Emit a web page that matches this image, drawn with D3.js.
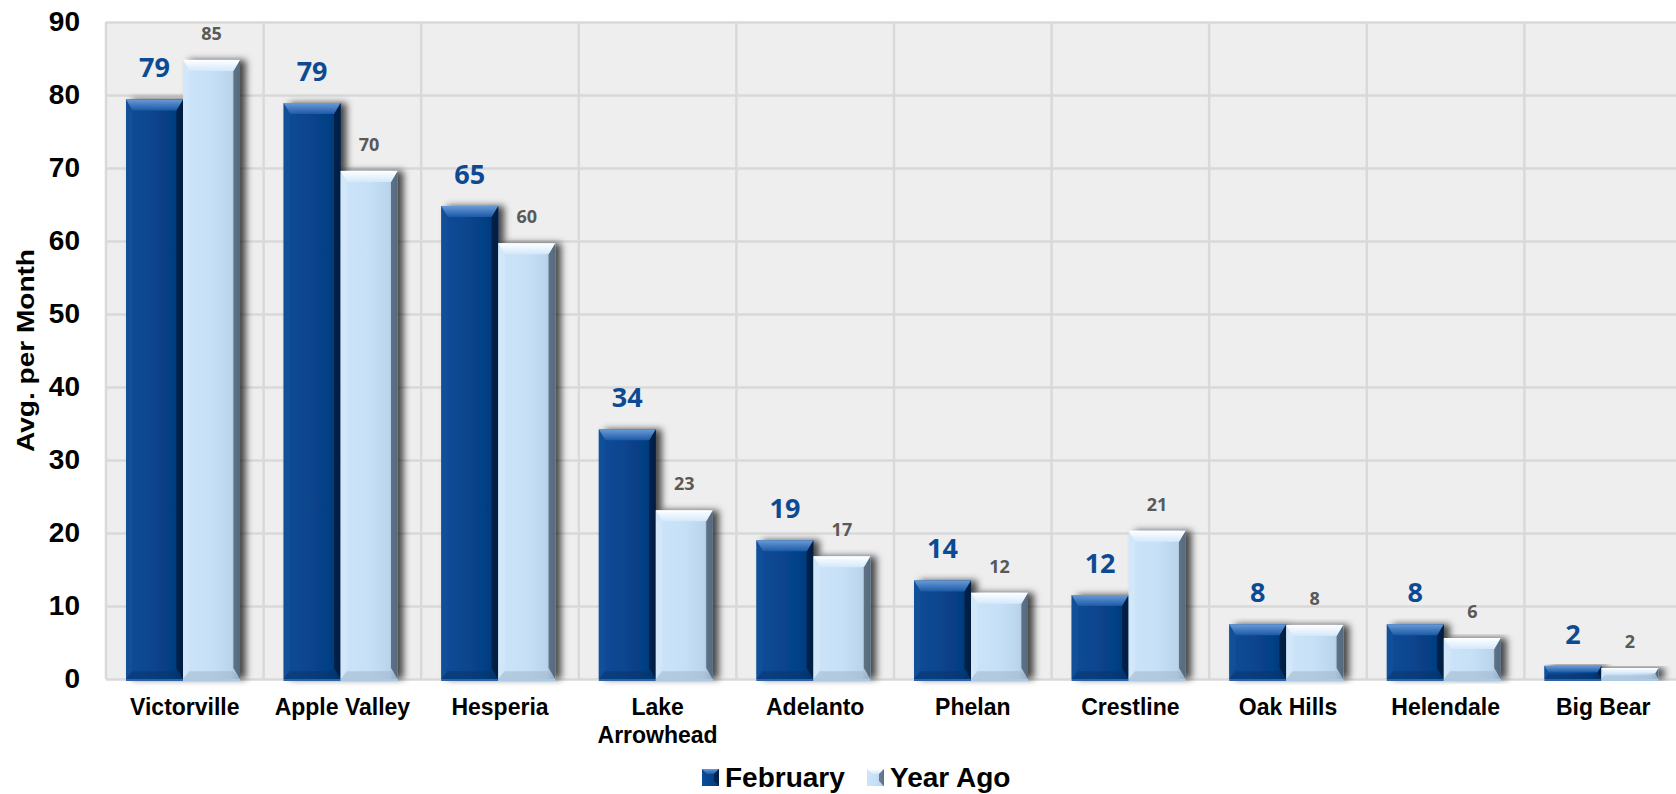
<!DOCTYPE html>
<html>
<head>
<meta charset="utf-8">
<script src="https://cdn.jsdelivr.net/npm/d3@7"></script>
<style>
  body { margin: 0; background: #fff; }
  svg { display: block; }
</style>
</head>
<body>
<script>
var width = 1676
var height = 794

// data
var categories = ["Victorville", "Apple Valley", "Hesperia", "Lake Arrowhead", "Adelanto",
                  "Phelan", "Crestline", "Oak Hills", "Helendale", "Big Bear"]
var seriesNames = ["February", "Year Ago"]
var february = [79.4, 78.9, 64.8, 34.2, 19.0, 13.5, 11.5, 7.5, 7.5, 1.8]
var yearAgo = [84.8, 69.6, 59.7, 23.1, 16.8, 11.8, 20.3, 7.4, 5.6, 1.5]
var februaryLabels = ["79", "79", "65", "34", "19", "14", "12", "8", "8", "2"]
var yearAgoLabels = ["85", "70", "60", "23", "17", "12", "21", "8", "6", "2"]
var yTicks = [0, 10, 20, 30, 40, 50, 60, 70, 80, 90]

var margin = { top: 22, bottom: 115, left: 106, right: -6 }
var plotW = width - margin.left - margin.right
var plotH = height - margin.top - margin.bottom

var svg = d3.select("body").append("svg")
  .attr("width", width)
  .attr("height", height)

// gradients and shadow
var defs = svg.append("defs")

function grad(id, x2, y2, stops) {
  var g = defs.append("linearGradient").attr("id", id)
    .attr("x1", 0).attr("y1", 0).attr("x2", x2).attr("y2", y2)
  stops.forEach(function(s) {
    g.append("stop").attr("offset", s[0]).attr("stop-color", s[1])
  })
}

var look = {
  "February": {
    body: [["0%", "#0b4c98"], ["50%", "#07448d"], ["85%", "#063d80"], ["100%", "#042d60"]],
    top: [["0%", "#6a9bd8"], ["100%", "#1c5aa6"]],
    left: "#145399", right: "#021a3a", bottom: "#06336c"
  },
  "Year Ago": {
    body: [["0%", "#cde4f8"], ["50%", "#c6e0f7"], ["85%", "#bad4ec"], ["100%", "#90a8bf"]],
    top: [["0%", "#ffffff"], ["100%", "#d3e8fb"]],
    left: "#d6e9fa", right: "#435668", bottom: "#9db2c6"
  }
}

seriesNames.forEach(function(s, i) {
  grad("body" + i, 1, 0, look[s].body)
  grad("top" + i, 0, 1, look[s].top)
})

var shadow = defs.append("filter").attr("id", "shadow")
  .attr("x", "-20%").attr("y", "-10%").attr("width", "160%").attr("height", "120%")
shadow.append("feDropShadow")
  .attr("dx", 6).attr("dy", 0).attr("stdDeviation", 3.5)
  .attr("flood-color", "#000").attr("flood-opacity", 0.7)

// scales
var x0 = d3.scaleBand().domain(categories).range([0, plotW]).padding(0)
var x1 = d3.scaleBand().domain(seriesNames).range([20, 134]).padding(0)
var y = d3.scaleLinear().domain([0, 90]).range([plotH, 0])

var g = svg.append("g")
  .attr("transform", "translate(" + margin.left + "," + margin.top + ")")

// plot background
g.append("rect")
  .attr("x", 0).attr("y", 0)
  .attr("width", plotW).attr("height", plotH)
  .attr("fill", "#eeeeee")

// horizontal grid
g.append("g")
  .call(d3.axisLeft(y).tickValues(yTicks).tickSize(-plotW).tickFormat(""))
  .call(function(a) {
    a.select(".domain").remove()
    a.selectAll("line").attr("stroke", "#d9d9d9").attr("stroke-width", 2.5)
  })

// vertical grid at category boundaries
g.append("g").selectAll("line")
  .data(categories)
  .enter()
  .append("line")
  .attr("x1", function(d) { return x0(d) })
  .attr("x2", function(d) { return x0(d) })
  .attr("y1", 0)
  .attr("y2", plotH)
  .attr("stroke", "#d9d9d9")
  .attr("stroke-width", 2.5)

// bars
var rows = categories.map(function(c, i) {
  return [
    { cat: c, series: "February", si: 0, value: february[i], label: februaryLabels[i] },
    { cat: c, series: "Year Ago", si: 1, value: yearAgo[i], label: yearAgoLabels[i] }
  ]
})

var catG = g.selectAll("g.cat")
  .data(rows)
  .enter()
  .append("g")
  .classed("cat", true)
  .attr("transform", function(d) { return "translate(" + x0(d[0].cat) + ",0)" })

var bar = catG.selectAll("g.bar")
  .data(function(d) { return d })
  .enter()
  .append("g")
  .classed("bar", true)

bar.each(function(d) {
  var el = d3.select(this)
  var bx = x1(d.series)
  var bw = x1.bandwidth()
  var by = y(d.value)
  var bh = plotH - by
  var b = Math.min(11, bh / 2)
  var st = look[d.series]

  el.append("rect")
    .attr("x", bx).attr("y", by)
    .attr("width", bw).attr("height", bh)
    .attr("fill", "url(#body" + d.si + ")")
    .attr("filter", "url(#shadow)")

  function poly(pts, fill, op) {
    el.append("polygon")
      .attr("points", pts.map(function(p) { return p.join(",") }).join(" "))
      .attr("fill", fill)
      .attr("opacity", op)
  }
  // left, right, bottom, top bevels
  poly([[bx, by], [bx + b * 0.6, by + b], [bx + b * 0.6, by + bh - b], [bx, by + bh]], st.left, 0.6)
  poly([[bx + bw, by], [bx + bw - b * 0.6, by + b], [bx + bw - b * 0.6, by + bh - b], [bx + bw, by + bh]], st.right, 0.75)
  poly([[bx, by + bh], [bx + b * 0.6, by + bh - b * 0.7], [bx + bw - b * 0.6, by + bh - b * 0.7], [bx + bw, by + bh]], st.bottom, 0.5)
  poly([[bx, by], [bx + bw, by], [bx + bw - b * 0.6, by + b], [bx + b * 0.6, by + b]], "url(#top" + d.si + ")", 1)

  // thin base line under the bar
  el.append("line")
    .attr("x1", bx).attr("x2", bx + bw)
    .attr("y1", plotH + 1).attr("y2", plotH + 1)
    .attr("stroke", d.si === 0 ? "#2c62a8" : "#a9cbe9")
    .attr("stroke-width", 2)
})

// value labels
bar.append("text")
  .attr("x", function(d) { return x1(d.series) + x1.bandwidth() / 2 })
  .attr("y", function(d) { return y(d.value) - (d.si === 0 ? 22 : 20) })
  .attr("text-anchor", "middle")
  .attr("font-family", "'Open Sans', 'Noto Sans', sans-serif")
  .attr("font-weight", "bold")
  .attr("font-size", function(d) { return d.si === 0 ? "27px" : "18px" })
  .attr("fill", function(d) { return d.si === 0 ? "#0c4a93" : "#595959" })
  .text(function(d) { return d.label })

// y axis tick labels
g.append("g")
  .attr("transform", "translate(-26,0)")
  .call(d3.axisLeft(y).tickValues(yTicks).tickSize(0).tickPadding(0))
  .call(function(a) {
    a.select(".domain").remove()
    a.selectAll("text")
      .attr("font-family", "'Liberation Sans', Arial, sans-serif")
      .attr("font-weight", "bold")
      .attr("font-size", "28px")
      .attr("fill", "#000")
  })

// x axis category labels
var xAxis = g.append("g")
  .attr("transform", "translate(0," + plotH + ")")
  .call(d3.axisBottom(x0).tickSize(0).tickPadding(0))
xAxis.select(".domain").remove()
xAxis.selectAll("text")
  .attr("font-family", "'Liberation Sans', Arial, sans-serif")
  .attr("font-weight", "bold")
  .attr("font-size", "23px")
  .attr("fill", "#000")
  .attr("dy", null)
  .attr("y", 36)
  .each(function(d) {
    var t = d3.select(this)
    if (this.getComputedTextLength() > x0.bandwidth() - 6) {
      var words = d.split(" ")
      t.text(null)
      words.forEach(function(w, i) {
        t.append("tspan").attr("x", 0).attr("dy", i === 0 ? 0 : 28).text(w)
      })
    }
  })

// y axis title
svg.append("text")
  .attr("transform", "translate(34," + (margin.top + plotH / 2) + ") rotate(-90)")
  .attr("text-anchor", "middle")
  .attr("font-family", "'Liberation Sans', Arial, sans-serif")
  .attr("font-weight", "bold")
  .attr("font-size", "23px")
  .attr("textLength", 203)
  .attr("lengthAdjust", "spacingAndGlyphs")
  .text("Avg. per Month")

// legend
var legendX = [702, 867]
var legend = svg.append("g").selectAll("g")
  .data(seriesNames)
  .enter()
  .append("g")
  .attr("transform", function(d, i) { return "translate(" + legendX[i] + ",769)" })

legend.append("rect")
  .attr("width", 17).attr("height", 17)
  .attr("fill", function(d, i) { return "url(#body" + i + ")" })
legend.append("polygon")
  .attr("points", "0,0 17,0 12,5 5,5")
  .attr("fill", function(d, i) { return "url(#top" + i + ")" })
legend.append("polygon")
  .attr("points", "17,0 17,17 12,12 12,5")
  .attr("fill", function(d) { return look[d].right })
  .attr("opacity", 0.7)

legend.append("text")
  .attr("x", 23)
  .attr("y", 18)
  .attr("font-family", "'Liberation Sans', Arial, sans-serif")
  .attr("font-weight", "bold")
  .attr("font-size", "28px")
  .attr("fill", "#000")
  .text(function(d) { return d })
</script>
</body>
</html>
